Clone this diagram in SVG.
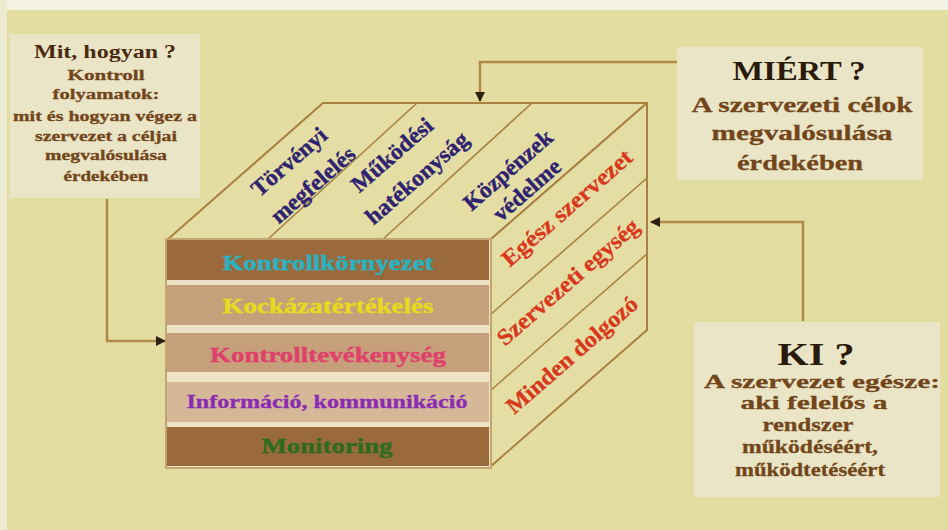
<svg xmlns="http://www.w3.org/2000/svg" width="948" height="530" viewBox="0 0 948 530">
<defs>
<marker id="arr" viewBox="0 0 10 10" refX="9" refY="5" markerWidth="4" markerHeight="4" orient="auto" markerUnits="strokeWidth">
<path d="M0,0 L10,5 L0,10 z" fill="#2E2010"/>
</marker>
<style>
.t{font-family:"Liberation Serif","Times New Roman",serif;font-weight:bold;text-anchor:middle}
.box{fill:#EAE5C7}
.edge{stroke:#A8803F;stroke-width:2;fill:#E4DEA5;stroke-linejoin:round}
.div{stroke:#A8803F;stroke-width:1.6;fill:none}
.con{stroke:#B08A48;stroke-width:2.5;fill:none;marker-end:url(#arr)}
.brown{fill:#72461A;stroke:#72461A;stroke-width:0.3}
.dark{fill:#2A1A0A}
.top{fill:#2F2270;stroke:#2F2270;stroke-width:0.4;font-size:23px}
.side{fill:#D8381C;stroke:#D8381C;stroke-width:0.3;font-size:23px}
.band{font-size:21px}
</style>
</defs>
<rect x="0" y="0" width="948" height="530" fill="#E3DDA2"/>
<rect x="0" y="0" width="948" height="10" fill="#F4F2E4"/>
<rect x="0" y="0" width="7" height="530" fill="#EEEBD3"/>

<g id="connectors">
<path class="con" d="M678,62 H480 V101"/>
<path class="con" d="M803,321 V222 H651"/>
<path class="con" d="M107,199 V341 H165"/>
</g>

<g id="node-mit">
<rect class="box" x="10" y="34" width="190" height="164"/>
<text class="t" x="105" y="58" font-size="18" fill="#4A2A10" textLength="142" lengthAdjust="spacingAndGlyphs">Mit, hogyan ?</text>
<text class="t brown" x="106" y="80" font-size="15" textLength="77" lengthAdjust="spacingAndGlyphs">Kontroll</text>
<text class="t brown" x="106" y="99" font-size="15" textLength="107" lengthAdjust="spacingAndGlyphs">folyamatok:</text>
<text class="t brown" x="105" y="121" font-size="15" textLength="184" lengthAdjust="spacingAndGlyphs">mit és hogyan végez a</text>
<text class="t brown" x="106" y="141" font-size="15" textLength="142" lengthAdjust="spacingAndGlyphs">szervezet a céljai</text>
<text class="t brown" x="106" y="160" font-size="15" textLength="122" lengthAdjust="spacingAndGlyphs">megvalósulása</text>
<text class="t brown" x="106" y="181" font-size="15" textLength="85" lengthAdjust="spacingAndGlyphs">érdekében</text>
</g>

<g id="node-miert">
<rect class="box" x="677" y="47" width="246" height="133"/>
<text class="t dark" x="799" y="80" font-size="27" textLength="133" lengthAdjust="spacingAndGlyphs">MIÉRT ?</text>
<text class="t brown" x="802" y="112" font-size="22" textLength="221" lengthAdjust="spacingAndGlyphs">A szervezeti célok</text>
<text class="t brown" x="802" y="140" font-size="22" textLength="181" lengthAdjust="spacingAndGlyphs">megvalósulása</text>
<text class="t brown" x="800" y="170" font-size="22" textLength="126" lengthAdjust="spacingAndGlyphs">érdekében</text>
</g>

<g id="node-ki">
<rect class="box" x="694" y="322" width="246" height="175"/>
<text class="t dark" x="816" y="365" font-size="32" textLength="77" lengthAdjust="spacingAndGlyphs">KI ?</text>
<text class="t brown" x="822" y="388" font-size="19" textLength="236" lengthAdjust="spacingAndGlyphs">A szervezet egésze:</text>
<text class="t brown" x="814" y="409" font-size="19" textLength="147" lengthAdjust="spacingAndGlyphs">aki felelős a</text>
<text class="t brown" x="808" y="431" font-size="19" textLength="91" lengthAdjust="spacingAndGlyphs">rendszer</text>
<text class="t brown" x="810" y="453" font-size="19" textLength="136" lengthAdjust="spacingAndGlyphs">működéséért,</text>
<text class="t brown" x="810" y="476" font-size="19" textLength="150" lengthAdjust="spacingAndGlyphs">működtetéséért</text>
</g>

<g id="node-cube">
<polygon class="edge" points="167,240 323,103 647,103 490,240"/>
<polygon class="edge" points="490,240 647,103 647,330 490,467"/>
<line class="div" x1="267" y1="240" x2="417" y2="103"/>
<line class="div" x1="382" y1="240" x2="532" y2="103"/>
<line class="div" x1="490" y1="315" x2="647" y2="178"/>
<line class="div" x1="490" y1="391" x2="647" y2="254"/>
<rect x="166" y="239" width="325" height="229" fill="#EDE4C8" stroke="#C4A572" stroke-width="2"/>
<rect x="167" y="240" width="322" height="40" fill="#9A6A3C"/>
<rect x="167" y="285" width="322" height="40" fill="#C6A07A"/>
<rect x="167" y="333" width="322" height="39" fill="#C6A07A"/>
<rect x="167" y="382" width="322" height="40" fill="#D6B898"/>
<rect x="167" y="427" width="322" height="39" fill="#9A6A3C"/>

<text class="t band" x="328" y="270" fill="#2AB2C2" stroke="#2AB2C2" stroke-width="0.4" textLength="211" lengthAdjust="spacingAndGlyphs">Kontrollkörnyezet</text>
<text class="t band" x="328" y="313" fill="#E8DA1E" stroke="#E8DA1E" stroke-width="0.4" textLength="211" lengthAdjust="spacingAndGlyphs">Kockázatértékelés</text>
<text class="t band" x="328" y="362" fill="#E0406C" stroke="#E0406C" stroke-width="0.4" textLength="236" lengthAdjust="spacingAndGlyphs">Kontrolltevékenység</text>
<text class="t" x="327" y="408" font-size="18" fill="#8A2BB3" stroke="#8A2BB3" stroke-width="0.3" textLength="281" lengthAdjust="spacingAndGlyphs">Információ, kommunikáció</text>
<text class="t band" x="327" y="453" fill="#2E6B1E" stroke="#2E6B1E" stroke-width="0.4" textLength="131" lengthAdjust="spacingAndGlyphs">Monitoring</text>

<text class="t top" transform="translate(289,162) rotate(-41)" dominant-baseline="central" textLength="92" lengthAdjust="spacingAndGlyphs">Törvényi</text>
<text class="t top" transform="translate(313,185) rotate(-41)" dominant-baseline="central" textLength="104" lengthAdjust="spacingAndGlyphs">megfelelés</text>
<text class="t top" transform="translate(392,155) rotate(-41)" dominant-baseline="central" textLength="100" lengthAdjust="spacingAndGlyphs">Működési</text>
<text class="t top" transform="translate(417,178) rotate(-41)" dominant-baseline="central" textLength="128" lengthAdjust="spacingAndGlyphs">hatékonyság</text>
<text class="t top" transform="translate(508,170) rotate(-41)" dominant-baseline="central" textLength="110" lengthAdjust="spacingAndGlyphs">Közpénzek</text>
<text class="t top" transform="translate(527,190) rotate(-41)" dominant-baseline="central" textLength="82" lengthAdjust="spacingAndGlyphs">védelme</text>

<text class="t side" transform="translate(567,208) rotate(-41)" dominant-baseline="central" textLength="165" lengthAdjust="spacingAndGlyphs">Egész szervezet</text>
<text class="t side" transform="translate(568,282) rotate(-41)" dominant-baseline="central" textLength="180" lengthAdjust="spacingAndGlyphs">Szervezeti egység</text>
<text class="t side" transform="translate(572,355) rotate(-41)" dominant-baseline="central" textLength="166" lengthAdjust="spacingAndGlyphs">Minden dolgozó</text>
</g>
</svg>
